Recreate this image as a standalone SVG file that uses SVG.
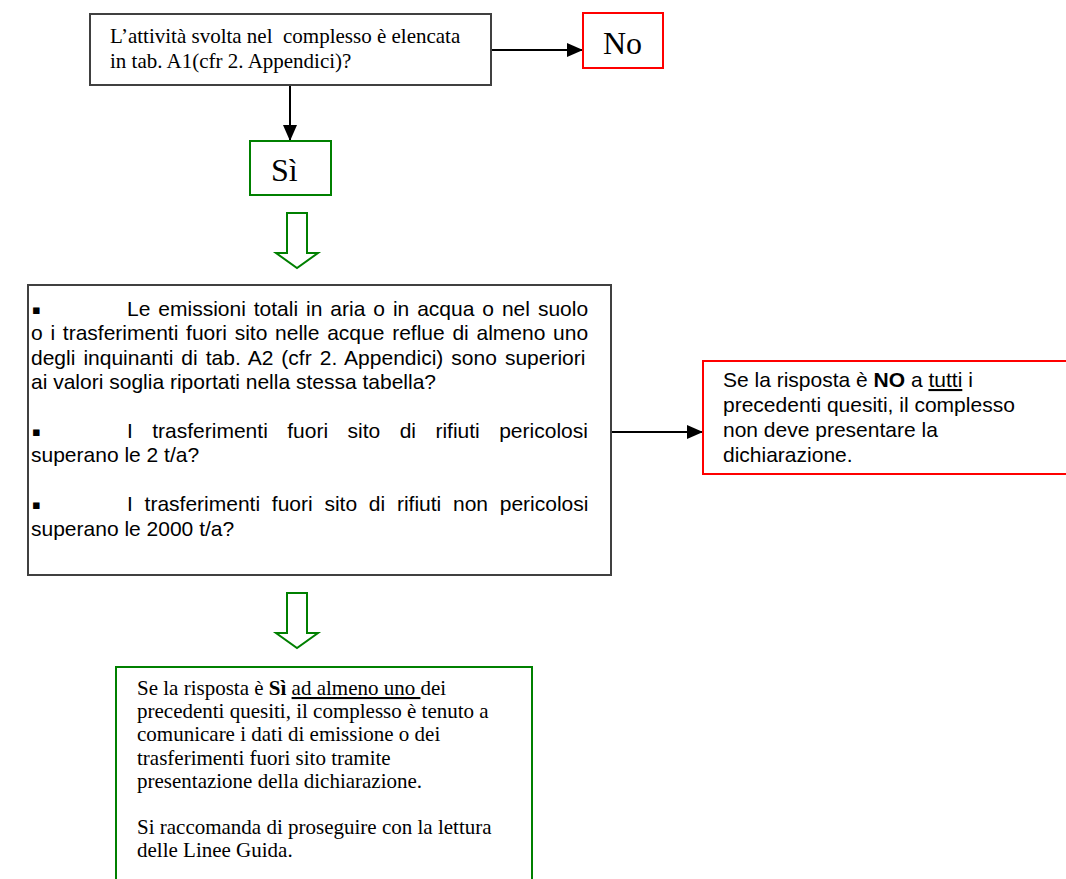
<svg xmlns="http://www.w3.org/2000/svg" width="1066" height="879" viewBox="0 0 1066 879">
  <defs>
    <style>
      .serif { font-family: "Liberation Serif", "Times New Roman", serif; fill: #000; }
      .sans { font-family: "Liberation Sans", Arial, sans-serif; fill: #000; }
      .box-gray { fill: #fff; stroke: #404040; stroke-width: 2; }
      .box-red { fill: #fff; stroke: #ff0000; stroke-width: 2; }
      .box-green { fill: #fff; stroke: #008000; stroke-width: 2; }
      .link { fill: none; stroke: #000; stroke-width: 2; }
      .hollow { fill: #fff; stroke: #008000; stroke-width: 2; stroke-linejoin: miter; }
      .bullet { font-family: "DejaVu Sans", sans-serif; font-size: 13px; fill: #000; }
    </style>
    <marker id="head" markerUnits="userSpaceOnUse" viewBox="0 0 16 14" markerWidth="16" markerHeight="14" refX="16" refY="7" orient="auto">
      <path d="M0,0 L16,7 L0,14 z" fill="#000"/>
    </marker>
  </defs>

  <rect width="1066" height="879" fill="#fff"/>

  <!-- connectors -->
  <g id="connectors">
    <line class="link" x1="491" y1="50" x2="583" y2="50" marker-end="url(#head)"/>
    <line class="link" x1="290" y1="85" x2="290" y2="141" marker-end="url(#head)"/>
    <line class="link" x1="611" y1="432" x2="703" y2="432" marker-end="url(#head)"/>
    <polygon class="hollow" points="287,213 307,213 307,253 318,253 297,268 276,253 287,253"/>
    <polygon class="hollow" points="287,593 307,593 307,633 318,633 297,648 276,633 287,633"/>
  </g>

  <!-- question: activity listed in A1 -->
  <g id="q-activity">
    <rect class="box-gray" x="90" y="14" width="401" height="71"/>
    <text class="serif" font-size="21" style="white-space:pre">
      <tspan x="110" y="43">L’attività svolta nel  complesso è elencata</tspan>
      <tspan x="110" y="68">in tab. A1(cfr 2. Appendici)?</tspan>
    </text>
  </g>

  <!-- answer: No -->
  <g id="ans-no">
    <rect class="box-red" x="583" y="13" width="80" height="55"/>
    <text class="serif" font-size="32" x="603" y="54">No</text>
  </g>

  <!-- answer: Sì -->
  <g id="ans-si">
    <rect class="box-green" x="250" y="141" width="81" height="54"/>
    <text class="serif" font-size="32" x="271" y="181">Sì</text>
  </g>

  <!-- thresholds questions -->
  <g id="q-thresholds">
    <rect class="box-gray" x="28" y="285" width="583" height="290"/>
    <text class="bullet" x="32" y="314">▪</text>
    <text class="bullet" x="32" y="436">▪</text>
    <text class="bullet" x="32" y="509">▪</text>
    <g class="sans" font-size="21">
      <text x="127" y="316" word-spacing="2.1">Le emissioni totali in aria o in acqua o nel suolo</text>
      <text x="31" y="340.4" word-spacing="1.9">o i trasferimenti fuori sito nelle acque reflue di almeno uno</text>
      <text x="31" y="364.8" word-spacing="2.2">degli inquinanti di tab. A2 (cfr 2. Appendici) sono superiori</text>
      <text x="31" y="389.2">ai valori soglia riportati nella stessa tabella?</text>
      <text x="127" y="438" word-spacing="13.6">I trasferimenti fuori sito di rifiuti pericolosi</text>
      <text x="31" y="462.4">superano le 2 t/a?</text>
      <text x="127" y="511.2" word-spacing="5.9">I trasferimenti fuori sito di rifiuti non pericolosi</text>
      <text x="31" y="535.6">superano le 2000 t/a?</text>
    </g>
  </g>

  <!-- outcome: no declaration -->
  <g id="out-no">
    <rect class="box-red" x="703" y="361" width="370" height="113"/>
    <text class="sans" font-size="21">
      <tspan x="723" y="387">Se la risposta è <tspan font-weight="bold">NO</tspan> a <tspan text-decoration="underline">tutti</tspan> i</tspan>
      <tspan x="723" y="412">precedenti quesiti, il complesso</tspan>
      <tspan x="723" y="437">non deve presentare la</tspan>
      <tspan x="723" y="462">dichiarazione.</tspan>
    </text>
  </g>

  <!-- outcome: declaration required -->
  <g id="out-si">
    <rect class="box-green" x="116" y="667" width="416" height="230"/>
    <text class="serif" font-size="21">
      <tspan x="137" y="695">Se la risposta è <tspan font-weight="bold">Sì</tspan> <tspan text-decoration="underline">ad almeno uno </tspan>dei</tspan>
      <tspan x="137" y="718.2">precedenti quesiti, il complesso è tenuto a</tspan>
      <tspan x="137" y="741.4">comunicare i dati di emissione o dei</tspan>
      <tspan x="137" y="764.6">trasferimenti fuori sito tramite</tspan>
      <tspan x="137" y="787.8">presentazione della dichiarazione.</tspan>
      <tspan x="137" y="834.2">Si raccomanda di proseguire con la lettura</tspan>
      <tspan x="137" y="857.4">delle Linee Guida.</tspan>
    </text>
  </g>
</svg>
